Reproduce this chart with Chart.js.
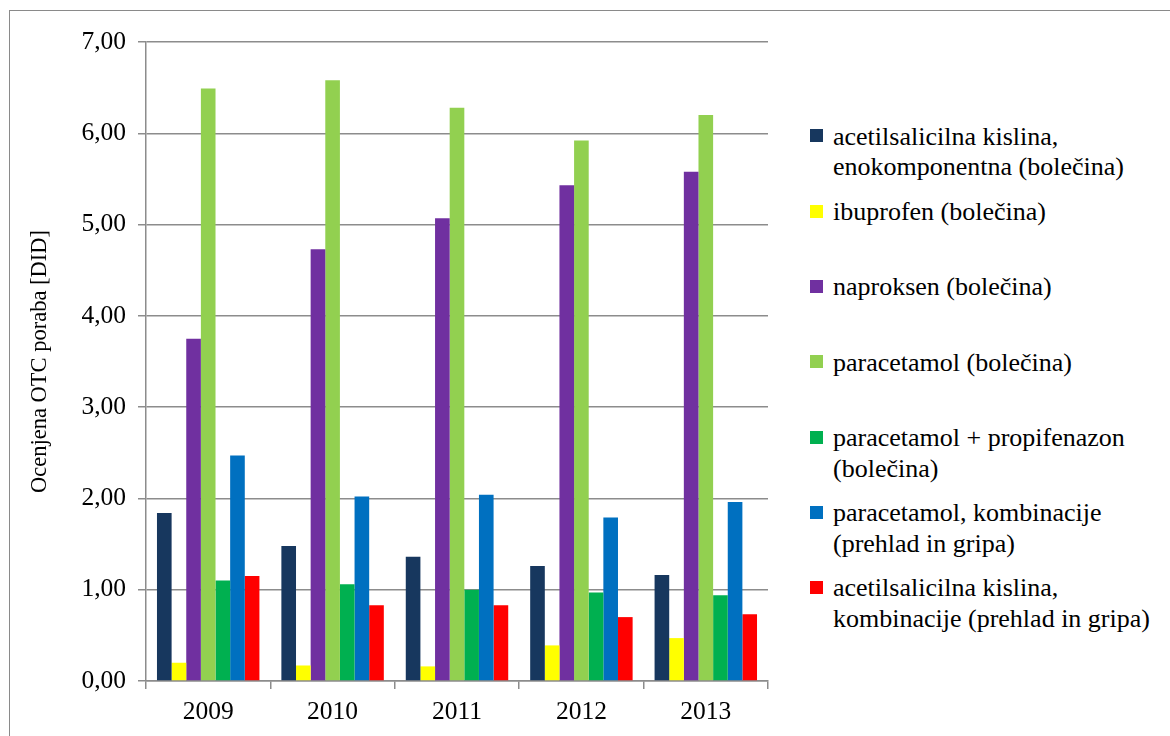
<!DOCTYPE html>
<html>
<head>
<meta charset="utf-8">
<script src="https://cdn.jsdelivr.net/npm/chart.js@4/dist/chart.umd.min.js"></script>
<style>
  html, body { margin: 0; padding: 0; background: #fff; }
  body { width: 1170px; height: 736px; position: relative; overflow: hidden; }
  #frame { position: absolute; left: 9px; top: 10px; width: 1300px; height: 900px; border: 1.5px solid #8a8a8a; box-sizing: border-box; }
  #wrap { position: absolute; left: 0; top: 0; width: 800px; height: 736px; }
  #legend { position: absolute; left: 810px; top: 0; width: 350px; }
  .item { position: absolute; left: 0; width: 350px; }
  .swatch { position: absolute; left: 0; width: 13px; height: 13px; }
  .label { position: absolute; left: 23px; width: 325px; font-family: 'Liberation Serif', 'DejaVu Serif', serif; font-size: 26px; line-height: 30.7px; color: #000; }
</style>
</head>
<body>
<div id="frame"></div>
<div id="wrap"><canvas id="chart" width="800" height="736"></canvas></div>
<div id="legend"></div>
<script>
// Ocenjena OTC poraba analgetikov po letih [DID]
const years = ['2009', '2010', '2011', '2012', '2013'];
const acetilEnokomponentna = [1.84, 1.48, 1.36, 1.26, 1.16];
const ibuprofen = [0.20, 0.17, 0.16, 0.39, 0.47];
const naproksen = [3.75, 4.73, 5.07, 5.43, 5.58];
const paracetamol = [6.49, 6.58, 6.28, 5.92, 6.20];
const paracetamolPropifenazon = [1.10, 1.06, 1.00, 0.97, 0.94];
const paracetamolKombinacije = [2.47, 2.02, 2.04, 1.79, 1.96];
const acetilKombinacije = [1.15, 0.83, 0.83, 0.70, 0.73];
const yTickValues = [0, 1, 2, 3, 4, 5, 6, 7];

const seriesNames = [
  'acetilsalicilna kislina, enokomponentna (bolečina)',
  'ibuprofen (bolečina)',
  'naproksen (bolečina)',
  'paracetamol (bolečina)',
  'paracetamol + propifenazon (bolečina)',
  'paracetamol, kombinacije (prehlad in gripa)',
  'acetilsalicilna kislina, kombinacije (prehlad in gripa)'
];
const seriesValues = [
  acetilEnokomponentna, ibuprofen, naproksen, paracetamol,
  paracetamolPropifenazon, paracetamolKombinacije, acetilKombinacije
];
const seriesColors = ['#17375E', '#FFFF00', '#7030A0', '#92D050', '#00B050', '#0070C0', '#FF0000'];

const gridColor = '#8c8c8c';
const fontFamily = "'Liberation Serif', 'DejaVu Serif', serif";

// plot area edges inside the canvas
const plotLeft = 146, plotRight = 768, plotTop = 42, plotBottom = 681;
const canvasW = 800, canvasH = 736;

const datasets = seriesNames.map((name, i) => ({
  label: name,
  data: seriesValues[i],
  backgroundColor: seriesColors[i],
  borderWidth: 0,
  categoryPercentage: 7 / 8.5,
  barPercentage: 1
}));

new Chart(document.getElementById('chart'), {
  type: 'bar',
  data: { labels: years, datasets },
  options: {
    responsive: false,
    animation: false,
    events: [],
    layout: { padding: { left: 0, right: canvasW - plotRight, top: plotTop, bottom: 0 } },
    plugins: { legend: { display: false }, tooltip: { enabled: false } },
    scales: {
      x: {
        grid: { display: true, drawOnChartArea: false, drawTicks: true, tickLength: 8, offset: true, color: gridColor, lineWidth: 1.5 },
        border: { display: true, color: gridColor, width: 1.5 },
        ticks: { color: '#000', padding: 8, font: { family: fontFamily, size: 25.5 } },
        afterFit: s => { s.height = canvasH - plotBottom; }
      },
      y: {
        min: 0,
        max: 7,
        afterBuildTicks: s => { s.ticks = yTickValues.map(v => ({ value: v })); },
        grid: { color: gridColor, lineWidth: 1.5, tickLength: 8, drawTicks: true },
        border: { display: true, color: gridColor, width: 1.5 },
        ticks: {
          color: '#000',
          padding: 12,
          font: { family: fontFamily, size: 25.5 },
          callback: v => Number(v).toFixed(2).replace('.', ',')
        },
        title: {
          display: true,
          text: 'Ocenjena OTC poraba [DID]',
          color: '#000',
          font: { family: fontFamily, size: 22.5 },
          padding: { top: 26.5, bottom: 0 }
        },
        afterFit: s => { s.width = plotLeft; }
      }
    }
  }
});

// legend built from the same series names and colours
const legend = document.getElementById('legend');
const firstLineCenter = 137, lineH = 30.7, itemPitch = 75.3;
seriesNames.forEach((name, i) => {
  const item = document.createElement('div');
  item.className = 'item';
  item.style.top = (firstLineCenter - lineH / 2 + i * itemPitch) + 'px';
  const sw = document.createElement('div');
  sw.className = 'swatch';
  sw.style.background = seriesColors[i];
  sw.style.top = (lineH / 2 - 6.5 - 1) + 'px';
  const lab = document.createElement('div');
  lab.className = 'label';
  lab.style.fontFamily = fontFamily;
  lab.textContent = name;
  item.appendChild(sw);
  item.appendChild(lab);
  legend.appendChild(item);
});
</script>
</body>
</html>
